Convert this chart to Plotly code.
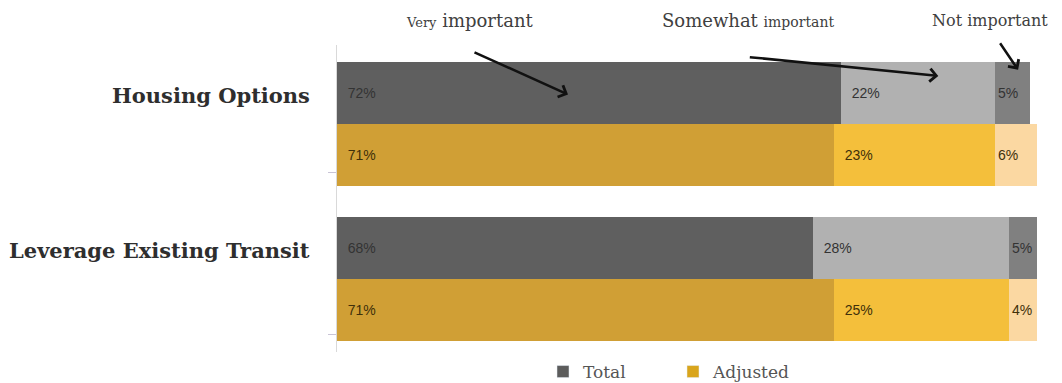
import plotly.graph_objects as go

categories = ["Housing Options", "Leverage Existing Transit"]
series = ["Total", "Adjusted"]
levels = ["Very important", "Somewhat important", "Not important"]

total_very = [72, 68]
total_somewhat = [22, 28]
total_not = [5, 5]
adjusted_very = [71, 71]
adjusted_somewhat = [23, 25]
adjusted_not = [6, 4]

values = {
    "Total": [total_very, total_somewhat, total_not],
    "Adjusted": [adjusted_very, adjusted_somewhat, adjusted_not],
}
colors = {
    "Total": ["#5f5f5f", "#b1b1b1", "#808080"],
    "Adjusted": ["#d09f35", "#f4bf3b", "#fbd8a2"],
}
text_colors = {"Total": "#333333", "Adjusted": "#40300a"}
legend_colors = {"Total": "#5c5c5c", "Adjusted": "#d9a51c"}

# page has an 8px body margin: figure drawn 8px right/down
W, H = 1054, 375
PL, PT, PR, PB = 329, 37, 25, 31
PLOT_W = W - PL - PR
PLOT_H = H - PT - PB

GROUP_STEP = 2.5
def row_pos(g, s):
    return g * GROUP_STEP + s

NBSP = "\u00a0"
fig = go.Figure()
for s, name in enumerate(series):
    ys = [row_pos(g, s) for g in range(len(categories))]
    for li, lvl in enumerate(levels):
        pad = NBSP * 2 if li < 2 else ""
        fig.add_trace(go.Bar(
            x=values[name][li], y=ys, orientation="h", width=1.0,
            name=name, showlegend=False,
            marker=dict(color=colors[name][li], line=dict(width=0)),
            text=[f"{pad}{v}%" for v in values[name][li]],
            textposition="inside", insidetextanchor="start",
            textfont=dict(family="Arial, Liberation Sans", size=14, color=text_colors[name]),
            constraintext="none", hoverinfo="skip",
        ))
    fig.add_trace(go.Bar(
        x=[None], y=[None], orientation="h", name=name, showlegend=True,
        marker=dict(color=legend_colors[name]),
    ))

annotations = []
for g, cat in enumerate(categories):
    annotations.append(dict(
        x=-25 / PLOT_W, xref="paper", y=row_pos(g, 0) + 0.05, yref="y",
        text=f"<b>{cat}</b>", showarrow=False, xanchor="right", yanchor="middle",
        font=dict(family="DejaVu Serif", size=21, color="#2e2e2e"),
    ))

serif = "DejaVu Serif"
label_texts = [
    "<span style='font-size:13px'>Very</span> important",
    "Somewhat <span style='font-size:14px'>important</span>",
    "<span style='font-size:16px'>Not important</span>",
]
label_x = [470, 748, 990]
for t, px in zip(label_texts, label_x):
    annotations.append(dict(
        x=(px - 8 - PL) / PLOT_W, xref="paper", y=1.0, yref="paper", yshift=25,
        text=t, showarrow=False, xanchor="center", yanchor="middle",
        font=dict(family=serif, size=18, color="#404040"),
    ))

# arrows (head in data coords, tail offset in px)
arrows = [
    (33.0, 0.03, -95, -43),
    (85.9, -0.27, -190, -19),
    (97.3, -0.37, -19, -28),
]
for hx, hy, ax, ay in arrows:
    annotations.append(dict(
        x=hx, y=hy, xref="x", yref="y", text="", showarrow=True,
        ax=ax, ay=ay, axref="pixel", ayref="pixel",
        arrowhead=4, arrowsize=1, arrowwidth=2.5, arrowcolor="#111111",
    ))

fig.update_layout(
    width=W, height=H,
    margin=dict(l=PL, r=PR, t=PT, b=PB, autoexpand=False),
    barmode="stack", bargap=0,
    paper_bgcolor="white", plot_bgcolor="white",
    showlegend=True,
    legend=dict(
        orientation="h", x=(543 - 8 - PL) / PLOT_W, xanchor="left",
        y=-20 / PLOT_H, yanchor="middle",
        font=dict(family=serif, size=17, color="#555555"),
        entrywidth=85, entrywidthmode="pixels",
        traceorder="normal",
    ),
    xaxis=dict(range=[0, 100], visible=False, fixedrange=True),
    yaxis=dict(
        range=[4.18, -0.77], showgrid=False, zeroline=False, automargin=False,
        showline=True, linecolor="#d9d9d9", linewidth=1,
        tickvals=[1.29, 3.9], ticktext=["", ""],
        ticks="outside", ticklen=8, tickcolor="#c9c4d6",
    ),
    annotations=annotations,
)

fig.write_html("out.html")
